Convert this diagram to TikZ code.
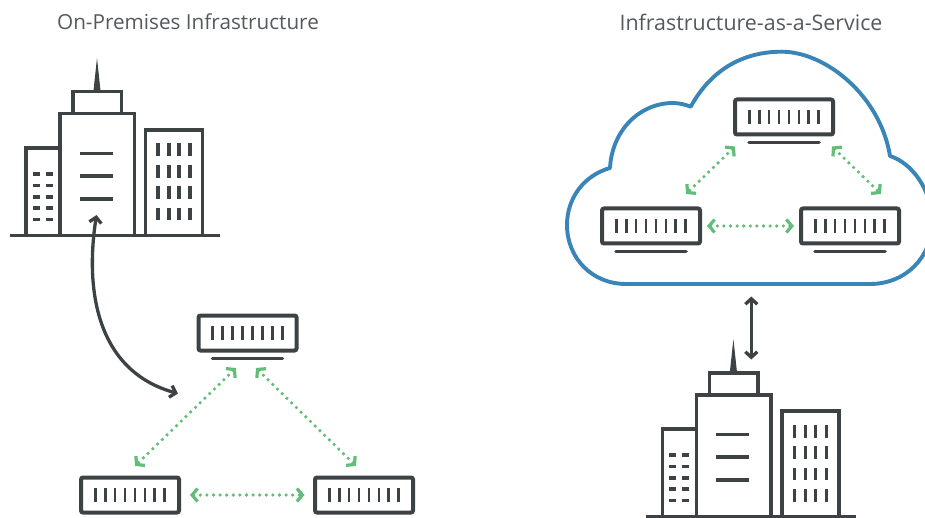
\documentclass[tikz,border=0pt]{standalone}
\usepackage{fontspec}
\setmainfont{Open Sans}
\usetikzlibrary{arrows.meta}
\definecolor{ink}{HTML}{3D4245}
\definecolor{leaf}{HTML}{62BD78}
\definecolor{sky}{HTML}{3A85B7}
\definecolor{titlegrey}{HTML}{55595C}
\tikzset{
  serverbox/.style={draw=ink,line width=4pt,rounded corners=2pt,minimum width=98pt,minimum height=35pt,inner sep=0pt,outer sep=0pt},
  serverbar/.style={draw=ink,line width=2.8pt},
  serverbase/.style={draw=ink,line width=3.6pt,line cap=round},
  wall/.style={draw=ink,line width=3.6pt,line join=miter},
  flat/.style={draw=ink,line width=3.1pt},
  greenlink/.style={draw=leaf,line width=3.6pt,line cap=round,dash pattern=on 0pt off 6.6pt,
    {Straight Barb[length=5.5pt,width=13pt,line width=3.2pt]}-{Straight Barb[length=5.5pt,width=13pt,line width=3.2pt]}},
  darklink/.style={draw=ink,line width=3.3pt,
    {Straight Barb[length=5.5pt,width=12pt,line width=3.3pt]}-{Straight Barb[length=5.5pt,width=12pt,line width=3.3pt]}},
  titletext/.style={text=titlegrey,inner sep=0pt}
}
\newcommand{\serverat}[4]{% name, cx, cy, base flag
  \node[serverbox] (#1) at (#2,#3) {};
  \foreach \k in {0,...,7}{
    \draw[serverbar] ({#2-34.8+\k*9.94},{#3-7}) -- ({#2-34.8+\k*9.94},{#3+7});
  }
  \ifnum#4=1
    \draw[serverbase] ({#2-35},{#3+25.5}) -- ({#2+35},{#3+25.5});
  \fi
}
\newcommand{\towerat}[3]{% name, dx, dy
  \begin{scope}[shift={(#2,#3)}]
    \fill[ink] (93.5,90.5) -- (97,58) -- (100.5,90.5) -- cycle;
    \draw[wall] (26,235.7) -- (26,148) -- (60,148);
    \draw[wall] (73,112.7) -- (73,91.7) -- (121.5,91.7) -- (121.5,112.7);
    \node[draw=ink,line width=3.6pt,minimum width=74.5pt,minimum height=122pt,inner sep=0pt,outer sep=0pt,anchor=north west] (#1) at (60,113.7) {};
    \draw[wall] (145.5,235.7) -- (145.5,130) -- (202.5,130) -- (202.5,235.7);
    \draw[flat] (10,235.7) -- (220,235.7);
    \foreach \yy in {153.5,176,199}{\draw[flat] (80,\yy) -- (113,\yy);}
    \foreach \yy in {174,185.5,197,208,219.5}{
      \draw[flat] (33,\yy) -- (40,\yy);
      \draw[flat] (46,\yy) -- (53,\yy);
    }
    \foreach \xx in {158,169,179,190}{
      \draw[flat] (\xx,143.5) -- (\xx,156.5);
      \draw[flat] (\xx,165) -- (\xx,178);
      \draw[flat] (\xx,186.5) -- (\xx,199);
      \draw[flat] (\xx,208) -- (\xx,220.5);
    }
  \end{scope}
}
\begin{document}
\begin{tikzpicture}[x=1pt,y=-1pt]
\clip[use as bounding box] (0,0) rectangle (925,518);
\node[titletext,font=\fontsize{20.7pt}{24pt}\selectfont] (titleleft) at (188,22) {On-Premises Infrastructure};
\node[titletext,font=\fontsize{21.4pt}{24pt}\selectfont] (titleright) at (751,22) {Infrastructure-as-a-Service};

% cloud
\draw[sky,line width=3.9pt,line join=round] (690.7,106.7)
  .. controls (712,68) and (745,51.7) .. (781.7,51.7)
  .. controls (825,51.7) and (880,95) .. (890,156)
  .. controls (912,163) and (932,190) .. (932,222)
  .. controls (932,258) and (905,284) .. (870,284)
  -- (626,284)
  .. controls (592,284) and (567,258) .. (567,225)
  .. controls (567,197) and (585,175) .. (610,168)
  .. controls (612,130) and (640,103) .. (673,103)
  .. controls (680,103) and (686,105) .. (690.7,106.7) -- cycle;

% left site
\towerat{towerA}{0}{0}
\serverat{srvAtop}{247.5}{333}{1}
\serverat{srvAleft}{130}{495}{0}
\serverat{srvAright}{364}{495}{0}

% right site
\towerat{towerB}{636.4}{281}
\serverat{srvBtop}{784}{117}{1}
\serverat{srvBleft}{651}{226}{1}
\serverat{srvBright}{850}{226}{1}

% connector ends
\coordinate (aT1) at (236,368);
\coordinate (aL1) at (135,466);
\coordinate (aT2) at (256,368);
\coordinate (aR1) at (356,466);
\coordinate (bT1) at (735,146.5);
\coordinate (bL1) at (686,194);
\coordinate (bT2) at (832,146.5);
\coordinate (bR1) at (881,194);
\coordinate (curveEnd) at (178,393.5);
\coordinate (curveStart) at (96.5,215);
\coordinate (liftTop) at (751.3,296.5);
\coordinate (liftBottom) at (751.3,359.5);

\draw[greenlink] (aT1) -- (aL1);
\draw[greenlink] (aT2) -- (aR1);
\draw[greenlink,shorten <=11pt,shorten >=10.5pt] (srvAleft.east) -- (srvAright.west);
\draw[greenlink] (bT1) -- (bL1);
\draw[greenlink] (bT2) -- (bR1);
\draw[greenlink,shorten <=7pt,shorten >=7pt] (srvBleft.east) -- (srvBright.west);

\draw[darklink] (liftTop) -- (liftBottom);
\draw[darklink] (curveStart) .. controls (84,296) and (100,372) .. (curveEnd);
\end{tikzpicture}
\end{document}
